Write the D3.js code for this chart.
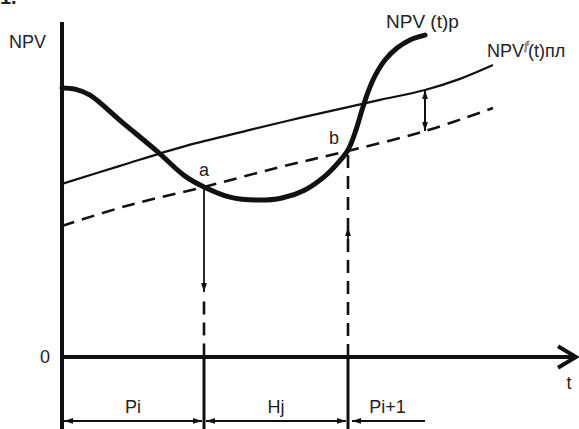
<!DOCTYPE html>
<html>
<head>
<meta charset="utf-8">
<script src="https://cdn.jsdelivr.net/npm/d3@7"></script>
<style>
body{margin:0;background:#fff}
text{font-family:"Liberation Sans",Arial,sans-serif;fill:#222}
</style>
</head>
<body>
<svg id="chart" width="579" height="429"></svg>
<script>
// NPV(t)p - thick curve, [t, NPV]
const curveP = [[0,8.97],[0.26,8.93],[0.56,8.73],[1.2,7.83],[1.92,6.83],[2.46,6.03],[2.84,5.67],
    [3.36,5.33],[3.9,5.23],[4.4,5.3],[4.86,5.57],[5.26,6.03],[5.52,6.47],[5.72,6.9],[5.88,7.57],
    [6.0,8.23],[6.12,8.83],[6.26,9.37],[6.46,9.9],[6.7,10.3],[6.96,10.57],[7.26,10.73]]
// NPVf(t)пл - thin solid
const curvePl = [[0,5.77],[1.16,6.37],[2.46,7.03],[3.76,7.57],[4.76,7.97],[5.72,8.33],[6.36,8.57],
    [7.26,8.9],[7.96,9.27],[8.62,9.73]]
// dashed lower curve
const curveLow = [[0,4.37],[1.36,5.07],[2.84,5.67],[4.36,6.33],[5.72,6.87],[7.26,7.53],[8.62,8.3]]

const ta = 2.84, tb = 5.72, tGap = 7.26
const intervals = [[0,ta,"Pi"],[ta,tb,"Hj"],[tGap,5.76,"Pi+1"]]

const x = d3.scaleLinear().domain([0,10]).range([62,562])
const y = d3.scaleLinear().domain([0,10]).range([357,57])

const svg = d3.select("#chart")

let defs = svg.append("defs")
defs.append("marker")
    .attr("id","arr")
    .attr("viewBox","0 0 10 10")
    .attr("refX",10).attr("refY",5)
    .attr("markerWidth",10).attr("markerHeight",9)
    .attr("markerUnits","userSpaceOnUse")
    .attr("orient","auto-start-reverse")
    .append("path").attr("d","M0,1.8L10,5L0,8.2z").attr("fill","#111")

// header fragment, cut by the top edge as in the source
svg.append("text").attr("x",0).attr("y",4)
    .attr("font-size",20).attr("font-weight","bold").text("1.")

const line = d3.line().x(d=>x(d[0])).y(d=>y(d[1])).curve(d3.curveCatmullRom.alpha(0.5))

// axes
svg.append("line")
    .attr("x1",x(0)).attr("x2",x(0))
    .attr("y1",y(11.17)).attr("y2",429)
    .attr("stroke","#111").attr("stroke-width",4)
svg.append("line")
    .attr("x1",x(0)).attr("x2",x(10.25))
    .attr("y1",y(0)).attr("y2",y(0))
    .attr("stroke","#111").attr("stroke-width",4)
svg.append("path")
    .attr("d",`M${x(9.92)},${y(0.36)}L${x(10.28)},${y(0)}L${x(9.92)},${y(-0.36)}`)
    .attr("fill","none").attr("stroke","#111").attr("stroke-width",4)

// verticals below axis
svg.selectAll("line.vb")
    .data([ta,tb])
    .enter().append("line")
    .attr("class","vb")
    .attr("x1",d=>x(d)).attr("x2",d=>x(d))
    .attr("y1",y(0)).attr("y2",429)
    .attr("stroke","#111").attr("stroke-width",3)

// curves
svg.append("path").datum(curveLow)
    .attr("d",line).attr("fill","none")
    .attr("stroke","#111").attr("stroke-width",2.6).attr("stroke-dasharray","13,8")
svg.append("path").datum(curvePl)
    .attr("d",line).attr("fill","none")
    .attr("stroke","#111").attr("stroke-width",2.2)
svg.append("path").datum(curveP)
    .attr("d",line).attr("fill","none")
    .attr("stroke","#111").attr("stroke-width",5).attr("stroke-linecap","round")

// point a: solid drop with arrow, then dashed
svg.append("line")
    .attr("x1",x(ta)).attr("x2",x(ta))
    .attr("y1",y(5.67)).attr("y2",y(2.17))
    .attr("stroke","#111").attr("stroke-width",1.8)
    .attr("marker-end","url(#arr)")
svg.append("line")
    .attr("x1",x(ta)).attr("x2",x(ta))
    .attr("y1",y(1.85)).attr("y2",y(0))
    .attr("stroke","#111").attr("stroke-width",2.6).attr("stroke-dasharray","13,8")

// point b: dashed rise with arrow
svg.append("line")
    .attr("x1",x(tb)).attr("x2",x(tb))
    .attr("y1",y(0)).attr("y2",y(6.87))
    .attr("stroke","#111").attr("stroke-width",2.6).attr("stroke-dasharray","13,8")
svg.append("line")
    .attr("x1",x(tb)).attr("x2",x(tb))
    .attr("y1",y(3.9)).attr("y2",y(4.33))
    .attr("stroke","#111").attr("stroke-width",1.8)
    .attr("marker-end","url(#arr)")

// gap arrow between thin and dashed curves
svg.append("line")
    .attr("x1",x(tGap)).attr("x2",x(tGap))
    .attr("y1",y(8.9)).attr("y2",y(7.53))
    .attr("stroke","#111").attr("stroke-width",2)
    .attr("marker-start","url(#arr)").attr("marker-end","url(#arr)")

// intervals under axis
svg.selectAll("line.iv")
    .data(intervals)
    .enter().append("line")
    .attr("class","iv")
    .attr("x1",d=>x(d[0])+(d[2]=="Pi+1"?0:2)).attr("x2",d=>x(d[1])+(d[2]=="Pi+1"?2:-2))
    .attr("y1",y(-2.13)).attr("y2",y(-2.13))
    .attr("stroke","#111").attr("stroke-width",2)
    .attr("marker-start",d=>d[2]=="Pi+1"?null:"url(#arr)")
    .attr("marker-end","url(#arr)")
svg.selectAll("text.iv")
    .data(intervals)
    .enter().append("text")
    .attr("class","iv")
    .attr("x",d=>x((d[0]+d[1])/2)).attr("y",y(-1.87))
    .attr("text-anchor","middle").attr("font-size",18)
    .text(d=>d[2])

// labels
svg.append("text").attr("x",9).attr("y",48).attr("font-size",18).text("NPV")
svg.append("text").attr("x",45).attr("y",363).attr("text-anchor","middle").attr("font-size",18).text("0")
svg.append("text").attr("x",569).attr("y",389).attr("text-anchor","middle").attr("font-size",18).text("t")
svg.append("text").attr("x",x(ta)).attr("y",176).attr("text-anchor","middle").attr("font-size",18).text("a")
svg.append("text").attr("x",334).attr("y",144).attr("text-anchor","middle").attr("font-size",18).text("b")
svg.append("text").attr("x",386).attr("y",28).attr("font-size",19).text("NPV (t)p")

let lab = svg.append("text").attr("x",487).attr("y",57).attr("font-size",18)
lab.append("tspan").text("NPV")
lab.append("tspan").attr("font-style","italic").attr("font-size",14).attr("dy",-5)
    .attr("fill","#fff").attr("stroke","#555").attr("stroke-width",0.7).text("f")
lab.append("tspan").attr("dy",5).text("(t)пл")
</script>
</body>
</html>
